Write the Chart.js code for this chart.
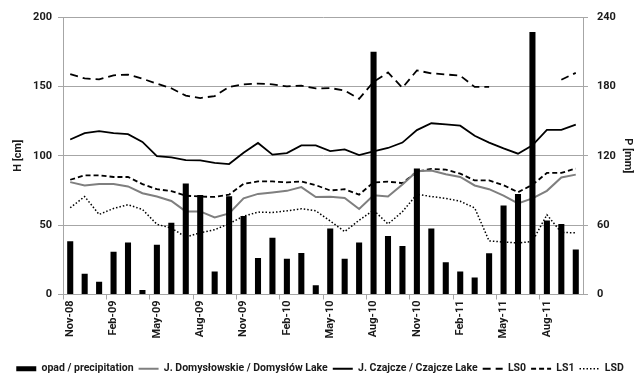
<!DOCTYPE html>
<html>
<head>
<meta charset="utf-8">
<script src="https://cdn.jsdelivr.net/npm/chart.js@4.4.1/dist/chart.umd.min.js"></script>
<style>
  html, body { margin: 0; padding: 0; background: #fff; }
  #wrap { width: 640px; height: 376px; position: relative; }
</style>
</head>
<body>
<div id="wrap"><canvas id="c"></canvas></div>
<script>
// ---- data ----
const months = ['Nov-08','Dec-08','Jan-09','Feb-09','Mar-09','Apr-09','May-09','Jun-09','Jul-09','Aug-09','Sep-09','Oct-09',
  'Nov-09','Dec-09','Jan-10','Feb-10','Mar-10','Apr-10','May-10','Jun-10','Jul-10','Aug-10','Sep-10','Oct-10',
  'Nov-10','Dec-10','Jan-11','Feb-11','Mar-11','Apr-11','May-11','Jun-11','Jul-11','Aug-11','Sep-11','Oct-11'];

// precipitation P [mm] (right axis)
const precipitation = [46, 18, 11, 37, 45, 4, 43, 62, 96, 86, 20, 85,
  68, 31.5, 49, 31, 36, 8, 57, 31, 45, 210, 50.5, 42,
  109, 57, 28, 20, 14.6, 35.6, 77, 87, 227, 64, 61, 39];

// water levels H [cm] (left axis)
const domyslow = [81, 78.6, 79.6, 79.6, 77.9, 73, 70.6, 67.4, 59.9, 59.9, 55.5, 58.4,
  69.3, 72.5, 73.5, 74.7, 77.4, 70.3, 70.4, 69.6, 61.6, 71.5, 70.6, 79.3,
  88.8, 89.3, 86.6, 84.7, 78.6, 75.9, 71.3, 65.7, 69.3, 74.7, 84.4, 86.4];

const czajcze = [111.7, 116.3, 117.8, 116.3, 115.6, 110, 99.8, 98.8, 96.8, 96.6, 94.8, 94,
  102.2, 109.2, 100.8, 101.9, 107.5, 107.5, 103.4, 104.6, 100.5, 103.2, 105.6, 109.5,
  118.5, 123.4, 122.6, 121.7, 114.4, 109.5, 105.3, 101.5, 107.5, 118.6, 118.6, 122.4];

const ls0 = [158.8, 155.7, 155, 158, 158.5, 155.5, 152, 148.6, 143.3, 141.6, 143, 149.6,
  151.5, 152, 151.5, 150, 150.5, 148.5, 148.8, 147, 141, 153.3, 160, 149,
  161.5, 159.4, 158.6, 157.7, 149.6, 149.6, null, null, null, null, 154.8, 159.7];

const ls1 = [82.7, 85.9, 85.9, 84.7, 84.7, 79.6, 75.9, 74.5, 71.2, 70.6, 70.3, 72,
  79.8, 81.5, 81.5, 80.8, 81.5, 78.8, 75, 75.9, 72, 80.8, 81.3, 80.3,
  88.6, 90.5, 90, 87.1, 82.2, 82.2, 78.8, 73.7, 79.1, 87.6, 87.6, 90.8];

const lsd = [62.5, 70.6, 57.7, 62, 64.7, 61.3, 50.6, 47.9, 41.4, 44.5, 46.7, 51.1,
  56.4, 59.4, 59.1, 60.3, 61.8, 60.3, 53, 45.3, 53.5, 60.8, 50.8, 59.7,
  72.2, 70.6, 69.3, 67.2, 62.4, 38.6, 37.8, 37.1, 38.3, 57.5, 44.7, 44.5];

const hTicks = [0, 50, 100, 150, 200];
const pTicks = [0, 60, 120, 180, 240];

// ---- chart ----
const FONT = "Roboto, 'Liberation Sans', sans-serif";
const GRID = '#a6a6a6';
const TXT = '#1a1a1a';
const tickFont = { family: FONT, size: 11, weight: 700 };

const lineDs = (label, data, color, width, dash) => ({
  type: 'line', label, data, yAxisID: 'y', order: 2,
  borderColor: color, backgroundColor: color, borderWidth: width,
  borderDash: dash, pointRadius: 0, tension: 0, spanGaps: false, fill: false
});

new Chart(document.getElementById('c'), {
  data: {
    labels: months,
    datasets: [
      { type: 'bar', label: 'opad / precipitation', data: precipitation, yAxisID: 'y2', order: 1,
        backgroundColor: '#000', borderWidth: 0, barPercentage: 0.42, categoryPercentage: 1.0 },
      lineDs('J. Domysłowskie / Domysłów Lake', domyslow, '#7f7f7f', 2, []),
      lineDs('J. Czajcze / Czajcze Lake', czajcze, '#000', 1.8, []),
      lineDs('LS0', ls0, '#000', 1.8, [8, 5]),
      lineDs('LS1', ls1, '#000', 1.8, [5, 3]),
      lineDs('LSD', lsd, '#000', 1.5, [1.5, 2])
    ]
  },
  options: {
    responsive: true, maintainAspectRatio: false, animation: false,
    layout: { padding: { top: 17, left: 0, right: 0, bottom: -8 } },
    plugins: {
      tooltip: { enabled: false },
      legend: {
        position: 'bottom',
        labels: {
          color: TXT, font: { family: FONT, size: 10.5, weight: 700 },
          usePointStyle: true, pointStyleWidth: 20, boxHeight: 5, padding: 5,
          generateLabels(chart) {
            const items = Chart.defaults.plugins.legend.labels.generateLabels(chart);
            items.forEach((it) => {
              const ds = chart.data.datasets[it.datasetIndex];
              it.pointStyle = ds.type === 'bar' ? 'rect' : 'line';
              it.lineWidth = ds.type === 'bar' ? 0 : ds.borderWidth;
              it.fillStyle = ds.type === 'bar' ? '#000' : ds.borderColor;
              it.strokeStyle = ds.type === 'bar' ? '#000' : ds.borderColor;
              it.lineDash = ds.borderDash || [];
            });
            return items;
          }
        }
      }
    },
    scales: {
      x: {
        offset: true,
        grid: { display: true, drawOnChartArea: false, drawTicks: true, tickLength: 5, offset: true,
          color: (ctx) => (ctx.index !== undefined && ctx.index % 3 === 0) ? GRID : 'rgba(0,0,0,0)' },
        border: { display: true, color: GRID },
        ticks: {
          autoSkip: false, maxRotation: 90, minRotation: 90, padding: 1,
          color: TXT, font: tickFont,
          callback: function(v, i) { return i % 3 === 0 ? this.getLabelForValue(v) : ''; }
        },
        afterFit: (s) => { s.height = 64; }
      },
      y: {
        position: 'left', min: 0, max: 200,
        afterBuildTicks: (s) => { s.ticks = hTicks.map(v => ({ value: v })); },
        grid: { color: GRID, tickLength: 5 },
        border: { display: true, color: GRID },
        ticks: { color: TXT, font: tickFont, padding: 6 },
        title: { display: true, text: 'H [cm]', color: TXT, font: tickFont, padding: { top: 12, bottom: 0 } },
        afterFit: (s) => { s.width = 63; }
      },
      y2: {
        position: 'right', min: 0, max: 240,
        afterBuildTicks: (s) => { s.ticks = pTicks.map(v => ({ value: v })); },
        grid: { drawOnChartArea: false, color: GRID, tickLength: 5 },
        border: { display: true, color: GRID },
        ticks: { color: TXT, font: tickFont, padding: 9 },
        title: { display: true, text: 'P [mm]', color: TXT, font: tickFont, padding: { top: 6, bottom: 0 } },
        afterFit: (s) => { s.width = 57; }
      }
    }
  }
});
</script>
</body>
</html>
